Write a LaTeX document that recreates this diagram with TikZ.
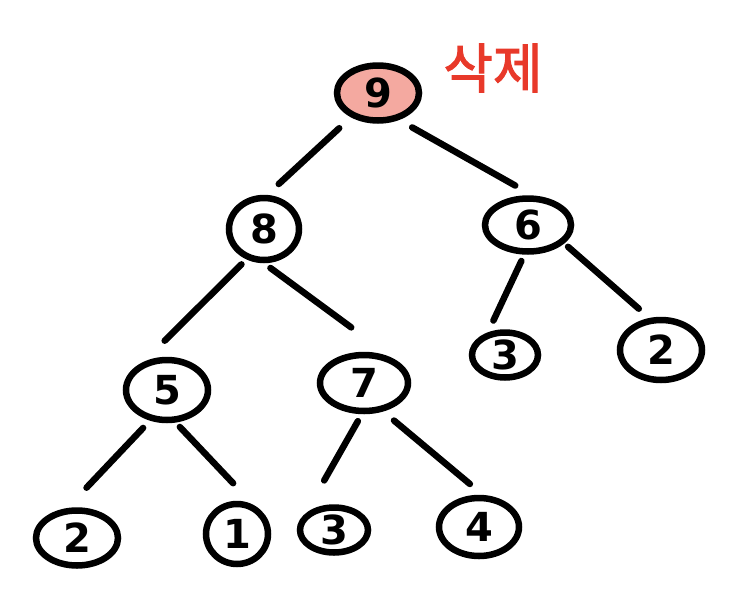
\documentclass[tikz,border=0pt]{standalone}
\usepackage{fontspec}
\setmainfont{DejaVu Sans}
\newfontfamily\kofont{Noto Sans CJK KR}[FakeBold=2]
\usetikzlibrary{shapes.geometric}
\definecolor{delred}{HTML}{E8392A}
\definecolor{delpink}{HTML}{F4A9A0}
\tikzset{
  tnode/.style={ellipse, draw=black, line width=6.5pt, inner sep=0pt,
    font=\fontsize{40}{40}\selectfont\bfseries},
  edge/.style={draw=black, line width=6.5pt, line cap=round},
}
\begin{document}
\begin{tikzpicture}[x=1pt,y=-1pt]
\useasboundingbox (0,0) rectangle (750,600);
% nodes
\node[tnode, fill=delpink, minimum width=82pt, minimum height=55pt] (n9) at (378,93) {9};
\node[font=\kofont\fontsize{54}{54}\selectfont, text=delred] (del) at (493,68) {삭제};
\node[tnode, minimum width=70pt, minimum height=62pt] (n8) at (264,229) {8};
\node[tnode, minimum width=86pt, minimum height=53pt] (n6) at (528,225) {6};
\node[tnode, minimum width=82pt, minimum height=60pt] (n5) at (167,390) {5};
\node[tnode, minimum width=88pt, minimum height=56pt] (n7) at (364,383) {7};
\node[tnode, minimum width=66pt, minimum height=45pt] (n3a) at (505,355) {3};
\node[tnode, minimum width=82pt, minimum height=60pt] (n2a) at (661,350) {2};
\node[tnode, minimum width=82pt, minimum height=55pt] (n2b) at (77,538) {2};
\node[tnode, minimum width=62pt, minimum height=60pt] (n1) at (237,534) {1};
\node[tnode, minimum width=68pt, minimum height=45pt] (n3b) at (334,530) {3};
\node[tnode, minimum width=80pt, minimum height=58pt] (n4) at (479,527) {4};
% edges
\draw[edge, shorten <=16pt, shorten >=16pt] (n9.222) -- (n8.85);
\draw[edge, shorten <=15pt, shorten >=20pt] (n9.308) -- (n6.81);
\draw[edge, shorten <=7pt, shorten >=30pt] (n8.240) -- (n5.130);
\draw[edge, shorten <=8pt, shorten >=53pt] (n8.270) -- (n7.39);
\draw[edge, shorten <=7pt, shorten >=13pt] (n6.263) -- (n3a.127);
\draw[edge, shorten <=5pt, shorten >=14pt] (n6.333) -- (n2a.110);
\draw[edge, shorten <=10pt, shorten >=28pt] (n5.241) -- (n2b.108);
\draw[edge, shorten <=6pt, shorten >=30pt] (n5.285) -- (n1.60);
\draw[edge, shorten <=8pt, shorten >=38pt] (n7.266) -- (n3b.150);
\draw[edge, shorten <=14pt, shorten >=17pt] (n7.304) -- (n4.83);
\end{tikzpicture}
\end{document}
